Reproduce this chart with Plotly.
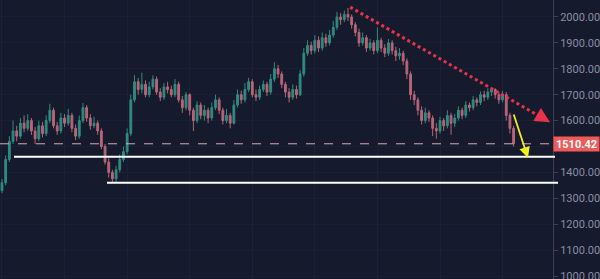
import plotly.graph_objects as go

# ---- data ----
first_open = 1330
closes = [1360, 1450, 1520,
          1560, 1540, 1590, 1570, 1600, 1560, 1530, 1580, 1550,
          1600, 1640, 1580, 1560, 1610, 1590, 1620, 1570, 1540, 1600, 1650, 1610, 1580, 1590,
          1560, 1500, 1440, 1400, 1375,
          1410, 1450, 1480, 1550,
          1680, 1750, 1720,
          1740, 1700, 1730, 1760, 1710, 1690, 1730, 1720, 1700, 1740,
          1680, 1650, 1700, 1640, 1600, 1660, 1620, 1640, 1610, 1650, 1680, 1640, 1600, 1620, 1590, 1660,
          1700, 1680, 1720, 1750, 1700, 1690, 1720, 1740, 1710, 1760, 1800,
          1780, 1740, 1710, 1690, 1720, 1700,
          1780, 1860, 1890, 1870, 1910, 1880, 1920, 1900, 1930,
          1960, 2000, 1990, 2010, 2000, 1970,
          1940, 1900, 1920, 1880, 1900, 1870, 1910, 1880, 1860, 1900, 1870,
          1850, 1860, 1830, 1780, 1700,
          1680, 1640, 1600, 1630, 1610, 1570,
          1560, 1600, 1580, 1620, 1590, 1610, 1640,
          1620, 1660, 1650, 1680, 1670, 1700, 1690, 1710, 1720,
          1700, 1680, 1700, 1620, 1570, 1510.42]
highs = [1375, 1465, 1540,
         1600, 1580, 1610, 1620, 1625, 1610, 1575, 1600, 1595,
         1620, 1665, 1650, 1595, 1630, 1625, 1645, 1630, 1585, 1620, 1668, 1660, 1625, 1615,
         1600, 1570, 1510, 1455, 1410,
         1425, 1470, 1500, 1570,
         1700, 1775, 1765,
         1785, 1755, 1750, 1775, 1770, 1725, 1745, 1750, 1735, 1760,
         1750, 1695, 1710, 1705, 1650, 1675, 1670, 1660, 1650, 1670, 1700, 1690, 1650, 1645, 1630, 1680,
         1720, 1715, 1745, 1765, 1760, 1720, 1735, 1755, 1750, 1780, 1825,
         1815, 1790, 1750, 1725, 1740, 1735,
         1795, 1880, 1910, 1905, 1930, 1925, 1940, 1935, 1950,
         1985, 2020, 2015, 2025, 2035, 2010,
         1980, 1955, 1940, 1930, 1915, 1910, 1960, 1920, 1895, 1915, 1910,
         1885, 1880, 1870, 1840, 1790,
         1715, 1690, 1655, 1650, 1640, 1620,
         1590, 1615, 1610, 1640, 1630, 1625, 1655,
         1650, 1675, 1670, 1695, 1690, 1712, 1715, 1725, 1730,
         1725, 1710, 1715, 1710, 1630, 1580]
lows = [1320, 1350, 1440,
        1510, 1520, 1530, 1555, 1560, 1545, 1510, 1520, 1535,
        1540, 1590, 1570, 1545, 1550, 1575, 1580, 1555, 1525, 1530, 1590, 1595, 1565, 1570,
        1545, 1490, 1430, 1380, 1358,
        1362, 1400, 1440, 1470,
        1540, 1670, 1700,
        1705, 1690, 1690, 1720, 1700, 1675, 1680, 1705, 1690, 1690,
        1670, 1630, 1640, 1620, 1560, 1590, 1605, 1600, 1590, 1600, 1640, 1625, 1585, 1590, 1570, 1585,
        1650, 1665, 1670, 1710, 1690, 1675, 1680, 1710, 1695, 1700, 1750,
        1765, 1725, 1690, 1670, 1680, 1685,
        1695, 1770, 1850, 1855, 1860, 1865, 1870, 1885, 1890,
        1920, 1950, 1970, 1980, 1985, 1955,
        1925, 1885, 1890, 1865, 1870, 1855, 1860, 1865, 1845, 1850, 1855,
        1830, 1835, 1815, 1760, 1680,
        1660, 1620, 1585, 1590, 1595, 1540,
        1530, 1550, 1560, 1570, 1545, 1575, 1600,
        1605, 1610, 1635, 1640, 1655, 1660, 1675, 1680, 1695,
        1685, 1665, 1670, 1600, 1550, 1500]
opens = [first_open] + closes[:-1]
idx = list(range(len(closes)))

last_price = closes[-1]
support_1 = 1460
support_2 = 1360
y_ticks = [1000, 1100, 1200, 1300, 1400, 1500, 1600, 1700, 1800, 1900, 2000]
y_tick_labels = ["1000.00", "1100.00", "1200.00", "1300.00", "1400.00", "", "1600.00",
                 "1700.00", "1800.00", "1900.00", "2000.00"]

BG = "#161a2d"
AX = "#8a8ea3"

fig = go.Figure(go.Candlestick(
    x=idx, open=opens, high=highs, low=lows, close=closes,
    increasing=dict(line=dict(color="#34a090", width=1), fillcolor="#34a090"),
    decreasing=dict(line=dict(color="#d27485", width=1), fillcolor="#d27485"),
    whiskerwidth=0, opacity=0.85, showlegend=False, hoverinfo="skip"))

# dashed last-price line
fig.add_shape(type="line", xref="paper", yref="y", x0=0, x1=1, y0=last_price, y1=last_price,
              line=dict(color="#dcaab2", width=1, dash="dash"))
# support lines
fig.add_shape(type="line", xref="paper", yref="y", x0=0.0253, x1=1.0036, y0=support_1, y1=support_1,
              line=dict(color="#ffffff", width=2))
fig.add_shape(type="line", xref="paper", yref="y", x0=0.1935, x1=1.009, y0=support_2, y1=support_2,
              line=dict(color="#ffffff", width=2))
# red dotted trend line
fig.add_shape(type="line", xref="x", yref="y", x0=94.6, y0=2038, x1=147.5, y1=1605,
              line=dict(color="#e8344a", width=3, dash="dot"))
fig.add_annotation(x=148.9, y=1594, ax=146.0, ay=1618, xref="x", yref="y", axref="x", ayref="y",
                   showarrow=True, arrowhead=2, arrowsize=1.0, arrowwidth=3, arrowcolor="#e8344a", text="")
# yellow arrow
fig.add_annotation(x=142.9, y=1456, ax=138.9, ay=1629, xref="x", yref="y", axref="x", ayref="y",
                   showarrow=True, arrowhead=2, arrowsize=1.2, arrowwidth=1.8, arrowcolor="#f2f01e", text="")
# price label
fig.add_annotation(x=1, xref="paper", y=last_price, yref="y", xanchor="left", yanchor="middle",
                   text="<b>1510.42</b>", showarrow=False, bgcolor="#ef5a5a",
                   font=dict(color="#ffffff", size=11, family="Roboto"),
                   width=43, height=12, borderpad=1, align="center")

fig.update_layout(
    width=600, height=279, margin=dict(l=0, r=47, t=0, b=0, autoexpand=False),
    paper_bgcolor=BG, plot_bgcolor=BG,
    font=dict(family="Roboto", color=AX, size=11),
    xaxis=dict(range=[-0.54, 149.7], showticklabels=False, showgrid=True, gridcolor="#1c2135",
               dtick=17, zeroline=False, rangeslider=dict(visible=False), fixedrange=True,
               automargin=False),
    yaxis=dict(range=[988.4, 2065.6], side="right", tickvals=y_ticks, ticktext=y_tick_labels,
               showgrid=True, gridcolor="#1a1f33", zeroline=False, showline=True,
               linecolor="#3a3f55", linewidth=1, ticks="outside", ticklen=4, tickcolor="#3a3f55",
               ticklabeloverflow="allow", automargin=False, tickfont=dict(size=11, color=AX)),
)

fig.write_html("out.html")
